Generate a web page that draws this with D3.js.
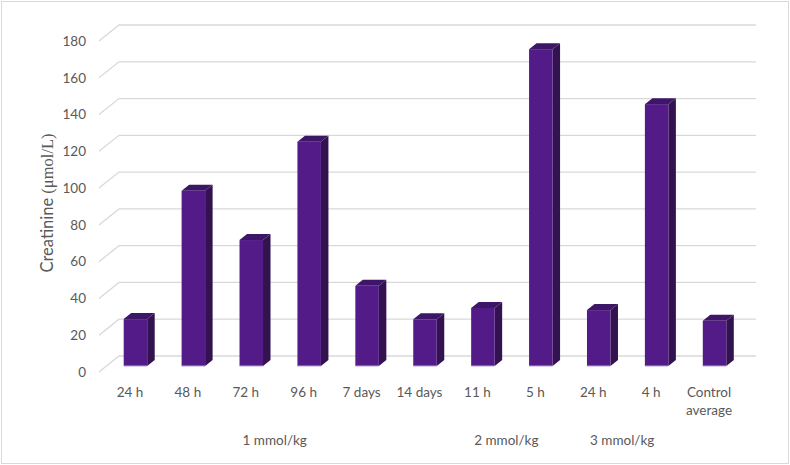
<!DOCTYPE html>
<html>
<head>
<meta charset="utf-8">
<script src="https://cdn.jsdelivr.net/npm/d3@7"></script>
<style>
  body { margin: 0; background: #fff; }
  text { font-family: Lato, "Open Sans", sans-serif; fill: #595959; }
</style>
</head>
<body>
<svg id="chart" width="790" height="465"></svg>
<script>
// data
const categories = ["24 h", "48 h", "72 h", "96 h", "7 days", "14 days", "11 h", "5 h", "24 h ", "4 h", "Control average"];
const creatinine = [25.5, 95.3, 68.5, 122, 43.6, 25.4, 31.6, 172.3, 30.4, 142.4, 24.6];
const yTicks = [0, 20, 40, 60, 80, 100, 120, 140, 160, 180];
const groups = ["1 mmol/kg", "2 mmol/kg", "3 mmol/kg"];
const groupSpan = [[0, 5], [6, 7], [8, 9]];

const svg = d3.select("#chart");
const W = 790, H = 465;

// 3d floor depth (front plane -> back wall)
const depth = {dx: 20, dy: -16};
const barDepth = 0.375; // fraction of depth where bar front face sits

const x = d3.scaleBand().domain(categories).range([99, 736]);
const y = d3.scaleLinear().domain([0, 180]).range([356, 25]); // back wall

// outer border
svg.append("rect")
    .attr("x", 1.5).attr("y", 1.5)
    .attr("width", W - 3).attr("height", H - 3)
    .attr("fill", "#fff").attr("stroke", "#d9d9d9").attr("stroke-width", 1);

// gridlines with front slant
let line = d3.line().x(d => d[0]).y(d => d[1]);
const xEnd = x.range()[1] + depth.dx;
svg.append("g").selectAll("path")
    .data(yTicks)
    .join("path")
    .attr("d", v => line([[x.range()[0], y(v) - depth.dy], [x.range()[0] + depth.dx, y(v)], [xEnd, y(v)]]))
    .attr("fill", "none")
    .attr("stroke", "#d9d9d9")
    .attr("stroke-width", 1.3);

// y tick labels
svg.append("g").selectAll("text")
    .data(yTicks)
    .join("text")
    .attr("x", 86)
    .attr("y", v => y(v) - depth.dy)
    .attr("dy", "0.35em")
    .attr("text-anchor", "end")
    .style("font-size", "13.5px")
    .text(d => d);

// axis title
const title = svg.append("text")
    .attr("transform", "translate(53,203) rotate(-90)")
    .attr("text-anchor", "middle")
    .style("font-size", "16.5px");
title.append("tspan").text("Creatinine ");
title.append("tspan").style("font-family", "'Liberation Serif', serif").text("(μmol/L)");

// bars
const fw = 23.5;
const sdx = depth.dx * barDepth, sdy = depth.dy * barDepth;
const bars = svg.append("g").selectAll("g")
    .data(categories.map((c, i) => ({c: c, v: creatinine[i]})))
    .join("g");

function faceX(d) { return x(d.c) + x.bandwidth() / 2 - fw / 2 + depth.dx * barDepth; }
const yBase = y(0) - depth.dy * (1 - barDepth);
function faceTop(d) { return y(d.v) - depth.dy * (1 - barDepth); }

bars.append("polygon") // side
    .attr("points", d => {
        let x1 = faceX(d) + fw, t = faceTop(d);
        return [[x1, t], [x1 + sdx, t + sdy], [x1 + sdx, yBase + sdy], [x1, yBase]].join(" ");
    })
    .attr("fill", "#32124f");
bars.append("polygon") // top
    .attr("points", d => {
        let x0 = faceX(d), t = faceTop(d);
        return [[x0, t], [x0 + sdx, t + sdy], [x0 + fw + sdx, t + sdy], [x0 + fw, t]].join(" ");
    })
    .attr("fill", "#3e1668");
bars.append("rect") // front
    .attr("x", faceX)
    .attr("y", faceTop)
    .attr("width", fw)
    .attr("height", d => yBase - faceTop(d))
    .attr("fill", "#521b87");
bars.append("line") // light bottom edge
    .attr("x1", faceX)
    .attr("x2", d => faceX(d) + fw)
    .attr("y1", yBase).attr("y2", yBase)
    .attr("stroke", "#b9a3dc").attr("stroke-width", 1);

// category labels
const catLabels = svg.append("g").selectAll("text")
    .data(categories)
    .join("text")
    .attr("x", d => x(d) + x.bandwidth() / 2 + 2)
    .attr("y", 397)
    .attr("text-anchor", "middle")
    .style("font-size", "13.5px");
catLabels.each(function(d) {
    let words = d.trim() === "Control average" ? ["Control", "average"] : [d.trim()];
    d3.select(this).selectAll("tspan")
        .data(words)
        .join("tspan")
        .attr("x", x(d) + x.bandwidth() / 2 + 2)
        .attr("dy", (w, i) => i === 0 ? 0 : 18)
        .text(w => w);
});

// group labels
svg.append("g").selectAll("text")
    .data(groups)
    .join("text")
    .attr("x", (g, i) => (x(categories[groupSpan[i][0]]) + x(categories[groupSpan[i][1]])) / 2 + x.bandwidth() / 2 + 2)
    .attr("y", 445)
    .attr("text-anchor", "middle")
    .style("font-size", "13.5px")
    .text(g => g);
</script>
</body>
</html>
